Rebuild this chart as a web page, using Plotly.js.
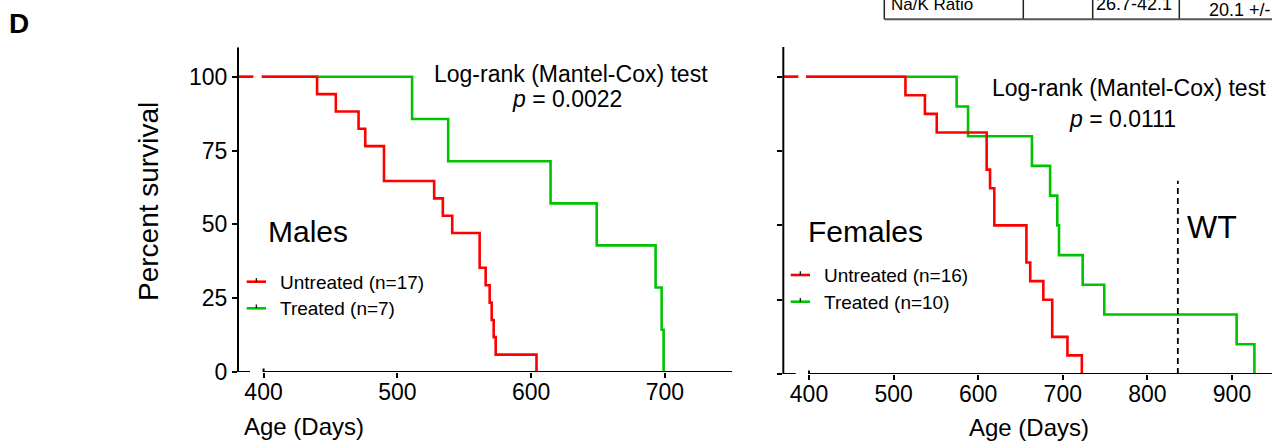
<!DOCTYPE html>
<html><head><meta charset="utf-8">
<script src="https://cdn.plot.ly/plotly-3.0.1.min.js"></script>
<style>html,body{margin:0;padding:0;background:#fff}#chart{width:1272px;height:443px}</style>
</head><body><div id="chart"></div>
<script>
// ---------- data ----------
const maleUntreatedAge  = [440, 454, 471, 476, 490, 527.5, 534, 541, 561.5, 566, 569, 570.5, 572, 573.5, 604];
const maleUntreatedSurv = [94.1, 88.2, 82.4, 76.5, 64.7, 58.8, 52.9, 47.1, 35.3, 29.4, 23.5, 17.6, 11.8, 5.9, 0];
const maleTreatedAge    = [511, 538, 614.5, 649, 693, 697.5, 699];
const maleTreatedSurv   = [85.7, 71.4, 57.1, 42.9, 28.6, 14.3, 0];
const femaleUntreatedAge  = [514, 537, 551, 610, 614, 619, 657, 661.5, 677, 687.5, 705.5, 722.5];
const femaleUntreatedSurv = [93.75, 87.5, 81.25, 68.75, 62.5, 50, 37.5, 31.25, 25, 12.5, 6.25, 0];
const femaleTreatedAge    = [574.5, 588, 663.5, 685, 693.5, 695.5, 723.5, 749, 905.5, 926.5];
const femaleTreatedSurv   = [90, 80, 70, 60, 50, 40, 30, 20, 10, 0];
const startAge = 0, startSurv = 100;
const wtAge = 836, wtTop = 65;
const maleTicks = [400, 500, 600, 700];
const femaleTicks = [400, 500, 600, 700, 800, 900];
const survTicks = [0, 25, 50, 75, 100];
const maleLegend = ['Untreated (n=17)', 'Treated (n=7)'];
const femaleLegend = ['Untreated (n=16)', 'Treated (n=10)'];
const maleP = '0.0022', femaleP = '0.0111';
const tableTexts = ['Na/K Ratio', '26.7-42.1', '20.1 +/-'];

// ---------- helpers ----------
const W = 1272, H = 443;
const px = x => x / W;
const py = y => (H - y) / H;
const RED = '#ff0000', GREEN = '#00c400', FONT = 'Liberation Sans, Arial, Helvetica, sans-serif';

function km(ages, surv, xa, ya, color, name) {
  return {
    x: [startAge].concat(ages), y: [startSurv].concat(surv),
    xaxis: xa, yaxis: ya, type: 'scatter', mode: 'lines', name: name,
    line: {color: color, width: 2.6, shape: 'hv'}, showlegend: false, hoverinfo: 'skip'
  };
}
const traces = [
  km(maleTreatedAge, maleTreatedSurv, 'x', 'y', GREEN, maleLegend[1]),
  km(maleUntreatedAge, maleUntreatedSurv, 'x', 'y', RED, maleLegend[0]),
  km(femaleTreatedAge, femaleTreatedSurv, 'x2', 'y2', GREEN, femaleLegend[1]),
  km(femaleUntreatedAge, femaleUntreatedSurv, 'x2', 'y2', RED, femaleLegend[0])
];

function ann(text, x, y, size, o) {
  return Object.assign({text: text, x: px(x), y: py(y), xref: 'paper', yref: 'paper',
    showarrow: false, xanchor: 'center', yanchor: 'middle',
    font: {family: FONT, size: size, color: '#000'}}, o || {});
}
function seg(x0, y0, x1, y1, color, width, extra) {
  return Object.assign({type: 'line', xref: 'paper', yref: 'paper',
    x0: px(x0), y0: py(y0), x1: px(x1), y1: py(y1),
    line: {color: color, width: width}}, extra || {});
}

const axBase = {
  ticks: 'outside', ticklen: 5, tickwidth: 2, tickcolor: '#000',
  showline: false, showgrid: false, zeroline: false, fixedrange: true,
  tickfont: {family: FONT, size: 23, color: '#000'}
};

const shapes = [
  // left axes
  {type: 'line', xref: 'x domain', yref: 'y', x0: 0, x1: 0, y0: 0, y1: 110, line: {color: '#000', width: 2}},
  {type: 'line', xref: 'x domain', yref: 'y', x0: 0, x1: 12 / 494, y0: 0, y1: 0, line: {color: '#000', width: 2}},
  {type: 'line', xref: 'x', yref: 'y', x0: maleTicks[0], x1: 750.1, y0: 0, y1: 0, line: {color: '#000', width: 2}},
  {type: 'line', xref: 'x', yref: 'paper', x0: maleTicks[0], x1: maleTicks[0], y0: py(372), y1: py(368.5), line: {color: '#000', width: 2}},
  // right axes
  {type: 'line', xref: 'x2 domain', yref: 'y2', x0: 0, x1: 0, y0: 0, y1: 110, line: {color: '#000', width: 2}},
  {type: 'line', xref: 'x2 domain', yref: 'y2', x0: 0, x1: 12.4 / 488.7, y0: 0, y1: 0, line: {color: '#000', width: 2}},
  {type: 'line', xref: 'x2', yref: 'y2', x0: femaleTicks[0], x1: 947.3, y0: 0, y1: 0, line: {color: '#000', width: 2}},
  {type: 'line', xref: 'x2', yref: 'paper', x0: femaleTicks[0], x1: femaleTicks[0], y0: py(374), y1: py(370.5), line: {color: '#000', width: 2}},
  // break gaps in the curves
  {type: 'rect', layer: 'above', xref: 'paper', yref: 'y', x0: px(253.3), x1: px(261.7), y0: 97, y1: 103, fillcolor: '#fff', line: {width: 0}},
  {type: 'rect', layer: 'above', xref: 'paper', yref: 'y2', x0: px(798.3), x1: px(806), y0: 97, y1: 103, fillcolor: '#fff', line: {width: 0}},
  // WT line
  {type: 'line', xref: 'x2', yref: 'y2', x0: wtAge, x1: wtAge, y0: 0, y1: wtTop, line: {color: '#000', width: 1.8, dash: '6px,4px'}},
  // legend samples
  seg(246.7, 281.7, 266, 281.7, RED, 2.6), seg(256.3, 281.7, 256.3, 278, '#000', 1.2),
  seg(246.7, 308.3, 266, 308.3, GREEN, 2.6), seg(256.3, 308.3, 256.3, 304.6, '#000', 1.2),
  seg(790.7, 275, 810, 275, RED, 2.6), seg(800.3, 275, 800.3, 271.3, '#000', 1.2),
  seg(790.7, 301.7, 810, 301.7, GREEN, 2.6), seg(800.3, 301.7, 800.3, 298, '#000', 1.2),
  // table fragment
  seg(884.3, 0, 884.3, 19.3, '#222', 1.5), seg(1023.3, 0, 1023.3, 19.3, '#222', 1.5),
  seg(1092.7, 0, 1092.7, 19.3, '#222', 1.5), seg(1179.3, 0, 1179.3, 19.3, '#222', 1.5),
  seg(884.3, 19.3, 1272, 19.3, '#555', 2)
];

const annotations = [
  ann('<b>D</b>', 7, 23, 28, {xanchor: 'left'}),
  ann('Percent survival', 148, 202, 28, {textangle: -90}),
  ann('Age (Days)', 304, 426, 24),
  ann('Age (Days)', 1029, 427.5, 24),
  ann('Log-rank (Mantel-Cox) test', 571, 74, 23),
  ann('<i>p</i> = ' + maleP, 567, 99, 23),
  ann('Log-rank (Mantel-Cox) test', 1129, 88, 23),
  ann('<i>p</i> = ' + femaleP, 1122, 119, 23),
  ann('Males', 266, 231, 30, {xanchor: 'left'}),
  ann('Females', 806, 231, 30, {xanchor: 'left'}),
  ann('WT', 1185, 227, 32, {xanchor: 'left'}),
  ann(maleLegend[0], 278.3, 282, 19, {xanchor: 'left'}),
  ann(maleLegend[1], 278.3, 308.5, 19, {xanchor: 'left'}),
  ann(femaleLegend[0], 821.7, 275.3, 19, {xanchor: 'left'}),
  ann(femaleLegend[1], 821.7, 302, 19, {xanchor: 'left'}),
  ann(tableTexts[0], 889, 4.5, 17, {xanchor: 'left'}),
  ann(tableTexts[1], 1094, 4, 18, {xanchor: 'left'}),
  ann(tableTexts[2], 1206.7, 10.5, 18, {xanchor: 'left'})
];

const layout = {
  width: W, height: H, margin: {l: 0, r: 0, t: 0, b: 0},
  paper_bgcolor: '#fff', plot_bgcolor: 'rgba(0,0,0,0)', showlegend: false,
  font: {family: FONT, color: '#000'},
  xaxis: Object.assign({}, axBase, {domain: [px(238), px(732)], range: [380.9, 750.1], anchor: 'y', tickmode: 'array', tickvals: maleTicks, ticklabelstandoff: -6}),
  yaxis: Object.assign({}, axBase, {domain: [py(372), py(47.2)], range: [0, 110], anchor: 'x', tickmode: 'array', tickvals: survTicks}),
  xaxis2: Object.assign({}, axBase, {domain: [px(783.3), 1], range: [369.6, 947.3], anchor: 'y2', tickmode: 'array', tickvals: femaleTicks, ticklabelstandoff: -6}),
  yaxis2: Object.assign({}, axBase, {domain: [py(374), py(47)], range: [0, 110], anchor: 'x2', tickmode: 'array', tickvals: survTicks, showticklabels: false}),
  shapes: shapes, annotations: annotations
};

Plotly.newPlot('chart', traces, layout, {staticPlot: true, displayModeBar: false});
</script>
</body></html>
